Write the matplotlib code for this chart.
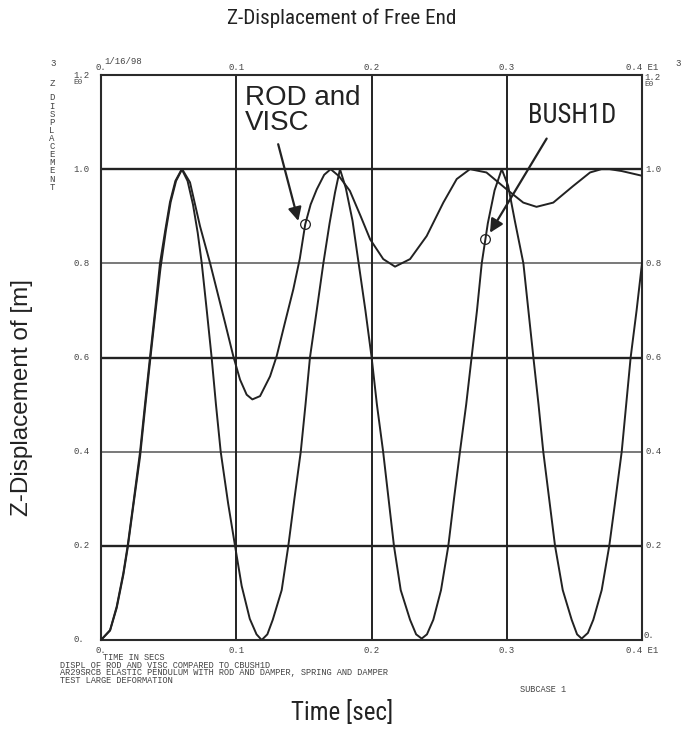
import matplotlib
matplotlib.use("Agg")
import matplotlib.pyplot as plt
from matplotlib import font_manager as fm

# ---- data ----------------------------------------------------------------
# undamped curve (CBUSH1D)
t_bush = [0.0000, 0.0067, 0.0116, 0.0165, 0.0197, 0.0239, 0.0289, 0.0325, 0.0362, 0.0400,
          0.0436, 0.0475, 0.0510, 0.0550, 0.0597, 0.0640, 0.0680, 0.0715, 0.0745, 0.0782,
          0.0818, 0.0850, 0.0885, 0.0940, 0.0991, 0.1040, 0.1100, 0.1150, 0.1188, 0.1230,
          0.1270, 0.1336, 0.1385, 0.1430, 0.1477, 0.1512, 0.1545, 0.1595, 0.1644, 0.1690,
          0.1730, 0.1767, 0.1810, 0.1860, 0.1905, 0.1955, 0.2001, 0.2040, 0.2086, 0.2166,
          0.2216, 0.2285, 0.2330, 0.2371, 0.2410, 0.2457, 0.2514, 0.2568, 0.2610, 0.2654,
          0.2700, 0.2740, 0.2780, 0.2815, 0.2860, 0.2910, 0.2963, 0.3010, 0.3060, 0.3123,
          0.3160, 0.3197, 0.3235, 0.3270, 0.3357, 0.3414, 0.3480, 0.3520, 0.3554, 0.3600,
          0.3640, 0.3702, 0.3758, 0.3800, 0.3850, 0.3916, 0.3960, 0.4000]
z_bush = [0.000, 0.021, 0.071, 0.142, 0.200, 0.290, 0.400, 0.500, 0.600, 0.700,
          0.800, 0.870, 0.930, 0.975, 1.000, 0.975, 0.925, 0.865, 0.800, 0.700,
          0.600, 0.500, 0.400, 0.290, 0.200, 0.115, 0.045, 0.012, 0.000, 0.012,
          0.043, 0.106, 0.200, 0.300, 0.400, 0.500, 0.600, 0.700, 0.800, 0.885,
          0.950, 1.000, 0.960, 0.890, 0.800, 0.700, 0.600, 0.500, 0.400, 0.200,
          0.106, 0.043, 0.012, 0.003, 0.012, 0.043, 0.106, 0.200, 0.300, 0.400,
          0.500, 0.600, 0.700, 0.800, 0.885, 0.955, 1.000, 0.965, 0.890, 0.800,
          0.700, 0.600, 0.500, 0.400, 0.200, 0.106, 0.043, 0.012, 0.003, 0.015,
          0.043, 0.106, 0.200, 0.290, 0.400, 0.600, 0.700, 0.800]

# damped curve (ROD and VISC)
t_rod = [0.0000, 0.0067, 0.0116, 0.0165, 0.0197, 0.0239, 0.0289, 0.0325, 0.0362, 0.0400,
         0.0440, 0.0480, 0.0515, 0.0555, 0.0600, 0.0658, 0.0732, 0.0806, 0.0855, 0.0917,
         0.0978, 0.1028, 0.1077, 0.1119, 0.1176, 0.1250, 0.1299, 0.1360, 0.1422, 0.1470,
         0.1510, 0.1550, 0.1595, 0.1650, 0.1698, 0.1760, 0.1840, 0.1920, 0.1990, 0.2087,
         0.2174, 0.2285, 0.2408, 0.2531, 0.2630, 0.2728, 0.2850, 0.3000, 0.3122, 0.3220,
         0.3344, 0.3490, 0.3616, 0.3700, 0.3760, 0.3850, 0.4000]
z_rod = [0.000, 0.020, 0.068, 0.138, 0.195, 0.285, 0.390, 0.490, 0.590, 0.690,
         0.790, 0.870, 0.930, 0.975, 1.000, 0.972, 0.879, 0.801, 0.745, 0.674,
         0.603, 0.553, 0.521, 0.511, 0.518, 0.560, 0.603, 0.674, 0.745, 0.810,
         0.883, 0.925, 0.957, 0.988, 1.000, 0.985, 0.954, 0.900, 0.851, 0.809,
         0.793, 0.809, 0.858, 0.929, 0.979, 1.000, 0.993, 0.957, 0.929, 0.920,
         0.929, 0.964, 0.993, 1.000, 1.000, 0.996, 0.986]

# marked points and arrow (tip, tail) for the two call-outs
rod_mark = (0.151, 0.883)
bush_mark = (0.284, 0.851)
rod_arrow = ((0.1459, 0.890), (0.131, 1.053))
bush_arrow = ((0.2876, 0.865), (0.3295, 1.065))

x_ticks = [0.0, 0.1, 0.2, 0.3, 0.4]
x_labels = ["0.", "0.1", "0.2", "0.3", "0.4 E1"]
y_ticks = [0.0, 0.2, 0.4, 0.6, 0.8, 1.0]
y_labels = ["0.", "0.2", "0.4", "0.6", "0.8", "1.0"]

footer = ["DISPL OF ROD AND VISC COMPARED TO CBUSH1D",
          "AR29SRCB ELASTIC PENDULUM WITH ROD AND DAMPER, SPRING AND DAMPER",
          "TEST LARGE DEFORMATION"]

# ---- fonts: the big labels use a condensed face if one is installed ------
installed = {f.name for f in fm.fontManager.ttflist}
condensed = dict(family=["Liberation Sans", "DejaVu Sans"])
for name in ("Liberation Sans Narrow", "Roboto Condensed", "Open Sans Condensed",
             "DejaVu Sans Condensed"):
    if name in installed:
        condensed = dict(family=[name, "DejaVu Sans"])
        break
else:
    if any(f.name == "DejaVu Sans" and f.stretch == "condensed"
           for f in fm.fontManager.ttflist):
        condensed = dict(family=["DejaVu Sans"], fontstretch="condensed")

sans = ["Liberation Sans", "DejaVu Sans"]

# ---- figure ---------------------------------------------------------------
W, H = 684, 729
fig = plt.figure(figsize=(W / 100, H / 100), dpi=100)
ax = fig.add_axes([101 / W, 1 - 640 / H, 541 / W, 565 / H])
ax.set_xlim(0, 0.4)
ax.set_ylim(0, 1.2)
ax.set_xticks([])
ax.set_yticks([])
for s in ax.spines.values():
    s.set_color("#2a2a2a")
    s.set_linewidth(1.5)

ink = "#222222"
for y in y_ticks[1:]:
    thick = y in (0.2, 0.6, 1.0)
    ax.axhline(y, color=ink if thick else "#555555", lw=1.7 if thick else 1.1, zorder=1)
for x in x_ticks[1:-1]:
    ax.axvline(x, color=ink, lw=1.4, zorder=1)

ax.plot(t_bush, z_bush, color=ink, lw=1.4, zorder=3)
ax.plot(t_rod, z_rod, color=ink, lw=1.4, zorder=3)

for m in (rod_mark, bush_mark):
    ax.plot(*m, marker="o", ms=7, mfc="none", mec=ink, mew=0.9, zorder=4)
for tip, tail in (rod_arrow, bush_arrow):
    ax.annotate("", xy=tip, xytext=tail,
                arrowprops=dict(arrowstyle="-|>", color=ink, lw=1.6,
                                mutation_scale=20, shrinkA=0, shrinkB=0))

ax.text(0.1065, 1.178, "ROD and\nVISC", fontsize=20, family=sans, color=ink,
        ha="left", va="top", linespacing=0.95)

# ---- old plotter style small text -----------------------------------------
mono = dict(family=["Liberation Mono", "DejaVu Sans Mono"], fontsize=6.5, color="#444444")


def ftext(x, y, s, **kw):
    opts = dict(mono)
    opts.update(kw)
    return fig.text(x / W, 1 - y / H, s, **opts)


ytr = ax.get_yaxis_transform()
xtr = ax.get_xaxis_transform()
for y, lab in zip(y_ticks, y_labels):
    ax.text(-28 / 541, y, lab, transform=ytr, ha="left", va="center", **mono)
    if y > 0:
        ax.text(1 + 3 / 541, y, lab, transform=ytr, ha="left", va="center", **mono)
for x, lab in zip(x_ticks, x_labels):
    ax.text(x, 1 + 3 / 565, lab, transform=xtr, ha="center", va="bottom", **mono)
    ax.text(x, -6 / 565, lab, transform=xtr, ha="center", va="top", **mono)

ftext(643, 635, "0.", ha="left", va="center")
ftext(73, 76, "1.2", ha="left", va="center")
ftext(73, 83, "E0", ha="left", va="center", fontsize=5.5)
ftext(644, 78, "1.2", ha="left", va="center")
ftext(644, 84, "E0", ha="left", va="center", fontsize=5.5)
ftext(53, 63, "3", ha="center", va="center")
ftext(678, 63, "3", ha="center", va="center")
ftext(104, 61, "1/16/98", ha="left", va="center")
ftext(52, 83, "Z", ha="center", va="center")
for i, ch in enumerate("DISPLACEMENT"):
    ftext(52, 98 + i * 8.1, ch, ha="center", va="center")

ftext(103, 658, "TIME IN SECS", ha="left", va="center", fontsize=6.2)
for i, line in enumerate(footer):
    ftext(60, 665.5 + i * 7.4, line, ha="left", va="center", fontsize=6.2)
ftext(520, 690, "SUBCASE 1", ha="left", va="center", fontsize=6.2)

# ---- big labels, sized so their width matches the reference --------------
big = []
big.append((fig.text(342 / W, 1 - 18 / H, "Z-Displacement of Free End",
                     fontsize=18, color=ink, ha="center", va="center", **condensed), 230))
big.append((fig.text(342 / W, 1 - 712 / H, "Time [sec]",
                     fontsize=18, color=ink, ha="center", va="center", **condensed), 106))
big.append((ax.text(0.3157, 1.142, "BUSH1D", fontsize=22, color=ink,
                    ha="left", va="top", **condensed), 88))
fig.text(22 / W, 1 - 397 / H, "Z-Displacement of [m]", family=sans,
         fontsize=17.5, color=ink, rotation=90, ha="center", va="center")

renderer = fig.canvas.get_renderer()
for txt, target in big:
    w = txt.get_window_extent(renderer).width
    txt.set_fontsize(txt.get_fontsize() * min(1.0, target / w))

fig.savefig("out.png", dpi=100, facecolor="white")
